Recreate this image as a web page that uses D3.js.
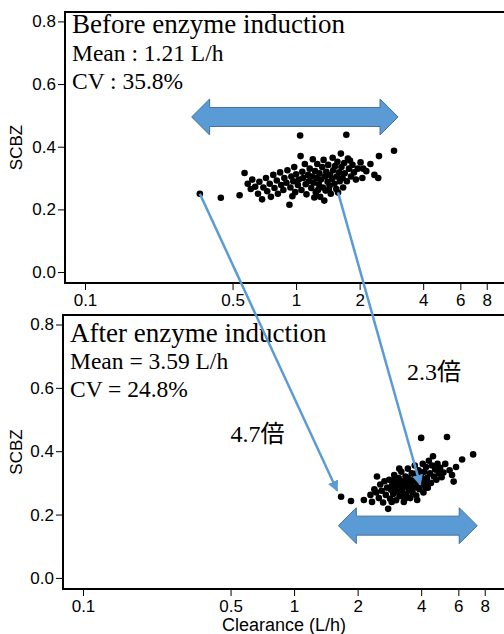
<!DOCTYPE html>
<html>
<head>
<meta charset="utf-8">
<script src="https://cdn.jsdelivr.net/npm/d3@7"></script>
<style>
  body { margin: 0; background: #fff; }
  svg { display: block; }
</style>
</head>
<body>
<script>
// clearance (L/h) vs SCBZ, before and after induction
const xTicks = [0.1, 0.5, 1, 2, 4, 6, 8];
const yTicks = [0, 0.2, 0.4, 0.6, 0.8];

const beforePoints = [
  [0.35,0.25],[0.44,0.237],[0.54,0.245],[0.57,0.316],[0.59,0.282],[0.61,0.265],[0.62,0.295],[0.64,0.272],[0.66,0.25],[0.67,0.288],
  [0.69,0.232],[0.70,0.27],[0.72,0.30],[0.73,0.258],[0.75,0.282],[0.76,0.24],[0.78,0.31],[0.79,0.268],[0.81,0.292],[0.82,0.25],
  [0.84,0.318],[0.85,0.278],[0.87,0.262],[0.88,0.30],[0.90,0.285],[0.91,0.325],[0.93,0.215],[0.94,0.27],[0.95,0.305],[0.97,0.29],
  [0.98,0.335],[0.99,0.255],[1.00,0.312],[1.02,0.278],[1.03,0.295],[1.045,0.436],[1.05,0.37],[1.06,0.262],[1.07,0.32],[1.08,0.30],
  [1.10,0.345],[1.11,0.28],[1.12,0.248],[1.14,0.31],[1.15,0.29],[1.16,0.33],[1.18,0.268],[1.19,0.305],[1.20,0.36],[1.21,0.285],
  [1.23,0.322],[1.24,0.255],[1.25,0.30],[1.26,0.345],[1.28,0.28],[1.29,0.315],[1.30,0.24],[1.31,0.295],[1.33,0.335],[1.34,0.27],
  [1.35,0.358],[1.37,0.305],[1.38,0.26],[1.39,0.32],[1.41,0.288],[1.42,0.342],[1.44,0.275],[1.45,0.31],[1.46,0.25],[1.48,0.298],
  [1.49,0.365],[1.50,0.325],[1.52,0.282],[1.53,0.338],[1.55,0.265],[1.56,0.305],[1.57,0.352],[1.58,0.254],[1.60,0.318],[1.61,0.29],
  [1.63,0.378],[1.64,0.335],[1.66,0.30],[1.67,0.27],[1.69,0.348],[1.70,0.315],[1.73,0.438],[1.74,0.29],[1.76,0.362],[1.78,0.33],
  [1.80,0.356],[1.82,0.305],[1.85,0.342],[1.88,0.318],[1.92,0.295],[1.96,0.33],[2.02,0.35],[2.06,0.30],[2.08,0.33],[2.15,0.322],
  [2.25,0.345],[2.35,0.31],[2.45,0.30],[2.47,0.37],[2.91,0.387],[1.22,0.238],[1.36,0.228],[0.96,0.242],[1.27,0.262],[1.43,0.262]
];

const afterPoints = [
  [1.67,0.256],[1.86,0.243],[2.14,0.246],[2.30,0.262],[2.34,0.24],[2.40,0.28],[2.45,0.27],[2.47,0.32],[2.52,0.252],[2.56,0.295],
  [2.60,0.275],[2.64,0.238],[2.68,0.305],[2.72,0.262],[2.76,0.285],[2.79,0.218],[2.82,0.31],[2.85,0.25],[2.88,0.278],[2.92,0.295],
  [2.95,0.265],[2.98,0.325],[3.01,0.285],[3.04,0.245],[3.07,0.302],[3.10,0.272],[3.13,0.315],[3.16,0.258],[3.19,0.29],[3.22,0.335],
  [3.25,0.275],[3.28,0.305],[3.31,0.24],[3.34,0.288],[3.37,0.32],[3.40,0.265],[3.43,0.30],[3.46,0.345],[3.49,0.28],[3.52,0.31],
  [3.55,0.252],[3.58,0.295],[3.61,0.33],[3.64,0.27],[3.67,0.305],[3.70,0.285],[3.73,0.355],[3.76,0.318],[3.79,0.26],[3.83,0.246],
  [3.86,0.30],[3.89,0.34],[3.92,0.28],[3.95,0.292],[3.99,0.325],[4.00,0.442],[4.03,0.31],[4.07,0.36],[4.10,0.27],[4.14,0.335],
  [4.18,0.298],[4.22,0.35],[4.26,0.315],[4.30,0.285],[4.35,0.37],[4.40,0.33],[4.45,0.30],[4.50,0.355],[4.55,0.384],[4.60,0.32],
  [4.66,0.342],[4.72,0.31],[4.78,0.36],[4.85,0.33],[4.92,0.348],[5.00,0.318],[5.10,0.333],[5.20,0.36],[5.30,0.445],[5.45,0.34],
  [5.60,0.325],[5.70,0.304],[5.85,0.35],[6.25,0.374],[7.05,0.39],[3.00,0.31],[3.20,0.262],[3.50,0.29],[3.60,0.275],[3.35,0.25],
  [2.90,0.24],[3.15,0.345],[3.80,0.33],[4.20,0.285],[3.45,0.315]
];

const panelTitles = ["Before enzyme induction", "After enzyme induction"];
const panelMeans = ["Mean : 1.21 L/h", "Mean = 3.59 L/h"];
const panelCVs = ["CV : 35.8%", "CV = 24.8%"];

// clearance spread arrows (low, high, level)
const spreadLo = [0.32, 1.62];
const spreadHi = [3.04, 7.37];
const spreadAt = [0.495, 0.165];

// individual shift arrows: top panel point -> bottom panel point
const shiftFrom = [[0.35, 0.25], [1.58, 0.254]];
const shiftTo = [[1.60, 0.275], [3.96, 0.294]];
const foldLabels = ["4.7倍", "2.3倍"];
const foldAt = [[0.50, 0.43], [3.43, 0.624]];

const width = 504, height = 634;
const blue = "#5b9bd5";

const svg = d3.select("body").append("svg")
  .attr("width", width)
  .attr("height", height);

const panels = [
  {top: 12, bottom: 283, left: 65, points: beforePoints, textY: [33, 61, 89]},
  {top: 315, bottom: 589, left: 63, points: afterPoints, textY: [342, 369, 397]}
];

panels.forEach((p, i) => {
  p.x = d3.scaleLog().domain([0.0804, 11.5]).range([p.left, p.left + 455]);
  p.y = d3.scaleLinear().domain([-0.035, 0.83]).range([p.bottom, p.top]);

  const g = svg.append("g");

  // frame (right side runs off the picture)
  g.append("path")
    .attr("d", `M${p.left + 470},${p.top} H${p.left} V${p.bottom} H${p.left + 470}`)
    .attr("fill", "none")
    .attr("stroke", "#000")
    .attr("stroke-width", 2);

  const yAxis = g.append("g")
    .attr("transform", `translate(${p.left - 1},0)`)
    .call(d3.axisLeft(p.y).tickValues(yTicks).tickFormat(d3.format(".1f")).tickSize(6).tickPadding(2));
  const xAxis = g.append("g")
    .attr("transform", `translate(0,${p.bottom + 1})`)
    .call(d3.axisBottom(p.x).tickValues(xTicks).tickFormat(d => d).tickSize(6).tickPadding(4));
  [yAxis, xAxis].forEach(a => {
    a.select(".domain").remove();
    a.selectAll("text").attr("font-family", "Liberation Sans, Arial, sans-serif").attr("font-size", 17).attr("fill", "#000");
    a.selectAll("line").attr("stroke", "#000");
  });

  g.append("text")
    .attr("transform", `translate(22,${(p.top + p.bottom) / 2}) rotate(-90)`)
    .attr("text-anchor", "middle")
    .attr("font-family", "Liberation Sans, Arial, sans-serif")
    .attr("font-size", 17)
    .text("SCBZ");

  // spread arrow
  const x0 = p.x(spreadLo[i]), x1 = p.x(spreadHi[i]), yc = p.y(spreadAt[i]);
  const hl = 18, hh = 18, sh = 9.5;
  g.append("path")
    .attr("d", `M${x0},${yc} L${x0 + hl},${yc - hh} V${yc - sh} H${x1 - hl} V${yc - hh} L${x1},${yc} L${x1 - hl},${yc + hh} V${yc + sh} H${x0 + hl} V${yc + hh} Z`)
    .attr("fill", blue)
    .attr("stroke", "#41719c")
    .attr("stroke-width", 1);

  g.selectAll("circle")
    .data(p.points)
    .enter()
    .append("circle")
    .attr("cx", d => p.x(d[0]))
    .attr("cy", d => p.y(d[1]))
    .attr("r", 3.3)
    .attr("fill", "#000");

  const lines = [panelTitles[i], panelMeans[i], panelCVs[i]];
  g.selectAll("text.lab")
    .data(lines)
    .enter()
    .append("text")
    .attr("class", "lab")
    .attr("x", p.left + 7)
    .attr("y", (d, j) => p.textY[j])
    .attr("font-family", "Liberation Serif, Times New Roman, serif")
    .attr("font-size", (d, j) => j == 0 ? 27 : 23.5)
    .text(d => d);
});

svg.append("text")
  .attr("x", 284)
  .attr("y", 631)
  .attr("text-anchor", "middle")
  .attr("font-family", "Liberation Sans, Arial, sans-serif")
  .attr("font-size", 18)
  .text("Clearance (L/h)");

// shift arrows, drawn over both panels
svg.append("defs").append("marker")
  .attr("id", "head")
  .attr("viewBox", "0 0 10 10")
  .attr("refX", 9)
  .attr("refY", 5)
  .attr("markerWidth", 11)
  .attr("markerHeight", 11)
  .attr("markerUnits", "userSpaceOnUse")
  .attr("orient", "auto")
  .append("path")
  .attr("d", "M0,0 L10,5 L0,10 Z")
  .attr("fill", blue);

const upper = panels[0], lower = panels[1];
svg.append("g").selectAll("line")
  .data(shiftFrom)
  .enter()
  .append("line")
  .attr("x1", d => upper.x(d[0]))
  .attr("y1", d => upper.y(d[1]))
  .attr("x2", (d, i) => lower.x(shiftTo[i][0]))
  .attr("y2", (d, i) => lower.y(shiftTo[i][1]))
  .attr("stroke", blue)
  .attr("stroke-width", 2.5)
  .attr("marker-end", "url(#head)");

svg.append("g").selectAll("text")
  .data(foldLabels)
  .enter()
  .append("text")
  .attr("x", (d, i) => lower.x(foldAt[i][0]))
  .attr("y", (d, i) => lower.y(foldAt[i][1]))
  .attr("font-family", "Liberation Serif, Noto Sans CJK JP, serif")
  .attr("font-size", 24)
  .text(d => d);
</script>
</body>
</html>
